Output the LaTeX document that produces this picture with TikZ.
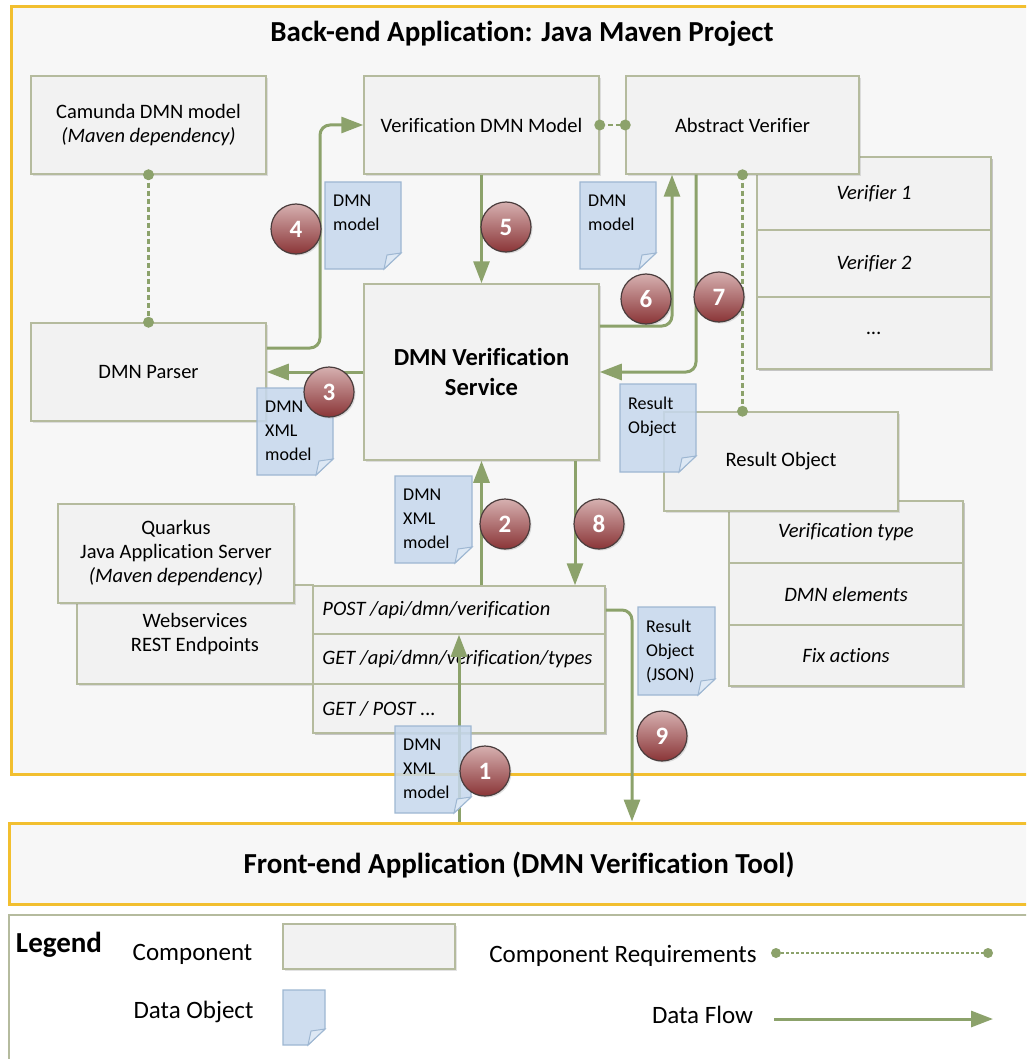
\documentclass[tikz,border=0pt]{standalone}
\usepackage{fontspec}
\setmainfont{Carlito}[Ligatures=CommonOff]
\usetikzlibrary{arrows.meta,shadows,calc}

\definecolor{flowgreen}{HTML}{8CA26B}
\definecolor{compborder}{HTML}{B5BB9E}
\definecolor{compfill}{HTML}{F2F2F2}
\definecolor{bgfill}{HTML}{F7F7F7}
\definecolor{gold}{HTML}{F2BF2F}
\definecolor{docfill}{HTML}{C6D8ED}
\definecolor{docborder}{HTML}{9EB7D2}
\definecolor{docfold}{HTML}{DDE8F4}
\definecolor{badgetop}{HTML}{D6B0B0}
\definecolor{badgebottom}{HTML}{8A3537}
\definecolor{badgeborder}{HTML}{4A3C3C}

\newcommand{\fsz}[2]{\fontsize{#1}{#2}\selectfont}

\tikzset{
  compplain/.style={draw=compborder, fill=compfill, line width=1.5pt, rectangle,
    inner sep=4pt, align=center, font=\fsz{20.5}{24}},
  comp/.style={compplain, drop shadow={shadow xshift=2pt, shadow yshift=-2pt, opacity=0.22}},
  eprow/.style={compplain, minimum width=292pt},
  eptext/.style={inner sep=0pt, anchor=west, font=\fsz{20.5}{24}\itshape},
  stackrow/.style={compplain, font=\fsz{20.5}{24}\itshape},
  flow/.style={draw=flowgreen, line width=3pt, rounded corners=10pt, -{Triangle[length=22pt,width=16pt]}},
  req/.style={draw=flowgreen, line width=2.5pt, dash pattern=on 5pt off 3pt},
  reqdot/.style={fill=flowgreen},
  badge/.style={circle, minimum size=50pt, inner sep=0pt, draw=badgeborder, line width=1.2pt,
    top color=badgetop, bottom color=badgebottom, text=white, font=\fsz{25}{25}\bfseries,
    drop shadow={shadow xshift=1.5pt, shadow yshift=-1.5pt, opacity=0.25}},
  doctext/.style={font=\fsz{18}{24}, align=left, inner sep=0pt, anchor=north west},
  plaintext/.style={inner sep=0pt, anchor=base},
}

\newcommand{\dataobj}[6]{%
  \filldraw[draw=docborder, fill=docfill, fill opacity=0.85, line width=1.2pt]
    (#2,#3) -- (#4,#3) -- (#4,#5-16) -- (#4-17,#5) -- (#2,#5) -- cycle;
  \filldraw[draw=docborder, fill=docfold, line width=1pt]
    (#4,#5-16) -- (#4-14,#5-14) -- (#4-17,#5) -- cycle;
  \node[doctext] (#1) at (#2+8,#3+13) {#6};}

\begin{document}
\begin{tikzpicture}[x=1pt,y=-1pt]
\useasboundingbox (0,0) rectangle (1026,1059);
\clip (0,0) rectangle (1026,1059);
\fill[white] (0,0) rectangle (1026,1059);

% ---------- big containers ----------
\node[draw=gold, fill=bgfill, line width=3pt, minimum width=1030pt, minimum height=767pt, inner sep=0pt] (be) at (526,390.5) {};
\node[plaintext, font=\fsz{29}{32}\bfseries] (betitle) at (522,42) {Back-end Application: Java Maven Project};

\node[draw=gold, fill=bgfill, line width=3pt, minimum width=1032pt, minimum height=81pt, inner sep=0pt] (fe) at (525,863.5) {};
\node[plaintext, font=\fsz{29}{32}\bfseries] (fetitle) at (519,873) {Front-end Application (DMN Verification Tool)};

\node[draw=compborder, fill=white, line width=2pt, minimum width=1032pt, minimum height=155pt, inner sep=0pt] (legend) at (525,992.5) {};

% ---------- components ----------
\node[comp, minimum width=235pt, minimum height=98pt] (camunda) at (148.5,125) {Camunda DMN model\\\textit{(Maven dependency)}};
\node[comp, minimum width=235pt, minimum height=98pt] (vdm) at (481.5,125) {Verification DMN Model};

% verifier stack
\fill[black, opacity=0.2] (759,159) rectangle (993,371);
\node[stackrow, minimum width=234pt, minimum height=73pt] (ver1) at (874,193.5) {Verifier 1};
\node[stackrow, minimum width=234pt, minimum height=67pt] (ver2) at (874,263.5) {Verifier 2};
\node[stackrow, minimum width=234pt, minimum height=72pt] (ver3) at (874,333) {...};

\node[comp, minimum width=233pt, minimum height=98pt] (av) at (742.5,125) {Abstract Verifier};

\node[comp, minimum width=235pt, minimum height=98pt] (parser) at (148.5,372) {DMN Parser};
\node[comp, minimum width=235pt, minimum height=176pt, font=\fsz{24.5}{30}\bfseries] (dvs) at (481.5,372) {DMN Verification\\Service};

% result stack
\fill[black, opacity=0.2] (731,503) rectangle (965,688);
\node[stackrow, minimum width=234pt, minimum height=62pt] (rt1) at (846,532) {Verification type};
\node[stackrow, minimum width=234pt, minimum height=62pt] (rt2) at (846,594) {DMN elements};
\node[stackrow, minimum width=234pt, minimum height=61pt] (rt3) at (846,655.5) {Fix actions};

\node[comp, minimum width=234pt, minimum height=99pt] (ro) at (781,461.5) {Result Object};

% webservices / quarkus / endpoints
\node[comp, minimum width=236pt, minimum height=99pt] (ws) at (195,634.5) {Webservices\\REST Endpoints};
\node[comp, minimum width=236pt, minimum height=99pt] (quarkus) at (176,553.5) {Quarkus\\Java Application Server\\\textit{(Maven dependency)}};

\fill[black, opacity=0.2] (315,588) rectangle (607,735);
\node[eprow, minimum height=48pt] (ep1) at (459,610) {};
\node[eprow, minimum height=50pt] (ep2) at (459,659) {};
\node[eprow, minimum height=49pt] (ep3) at (459,708.5) {};
\node[eptext] (ep1t) at ([xshift=10pt]ep1.west) {POST /api/dmn/verification};
\node[eptext] (ep2t) at ([xshift=10pt]ep2.west) {GET /api/dmn/verification/types};
\node[eptext] (ep3t) at ([xshift=10pt]ep3.west) {GET / POST ...};

% ---------- helper x positions ----------
\coordinate (x4) at (320,0);
\coordinate (x6) at (672,0);
\coordinate (x7) at (696,0);
\coordinate (x8) at (575,0);
\coordinate (x9) at (632,0);

% ---------- data flows ----------
\draw[flow] (fe.north -| ep1.south) -- (ep1.south);
\draw[flow] (ep1.north -| vdm.south) -- (dvs.south);
\draw[flow] (x8 |- dvs.south) -- (x8 |- ep1.north);
\draw[flow] (ep1.east) -| (x9 |- fe.north);
\draw[flow] (vdm.south) -- (dvs.north);
\draw[flow] ([yshift=24pt]parser.east) -| (x4 |- vdm.west) -- (vdm.west);
\draw[flow] (dvs.west) -- (parser.east);
\draw[flow] ([yshift=46pt]dvs.east) -| (x6 |- av.south);
\draw[flow] (x7 |- av.south) |- (dvs.east);

% ---------- component requirements ----------
\draw[req] (camunda.south) -- (parser.north);
\fill[reqdot] (camunda.south) circle (5.5pt);
\fill[reqdot] (parser.north) circle (5.5pt);
\draw[req] (vdm.east) -- (av.west);
\fill[reqdot] (vdm.east) circle (5.5pt);
\fill[reqdot] (av.west) circle (5.5pt);
\draw[req] (av.south) -- (av.south |- ro.north);
\fill[reqdot] (av.south) circle (5.5pt);
\fill[reqdot] (av.south |- ro.north) circle (5.5pt);

% ---------- data objects ----------
\dataobj{d4}{325}{182}{401}{269}{DMN\\model}
\dataobj{d6}{580}{182}{656}{269}{DMN\\model}
\dataobj{d3}{257}{388}{333}{475}{DMN\\XML\\model}
\dataobj{d2}{395}{476}{472}{563}{DMN\\XML\\model}
\dataobj{dro}{620}{384}{696}{472}{Result\\Object}
\dataobj{djson}{638}{607}{715}{695}{Result\\Object\\(JSON)}
\dataobj{d1}{395}{726}{471}{813}{DMN\\XML\\model}

% ---------- badges ----------
\node[badge] (n1) at (485,771) {1};
\node[badge] (n2) at (505,524) {2};
\node[badge] (n3) at (329,392) {3};
\node[badge] (n4) at (296,229) {4};
\node[badge] (n5) at (506,227) {5};
\node[badge] (n6) at (646,299) {6};
\node[badge] (n7) at (719,297) {7};
\node[badge] (n8) at (599,524) {8};
\node[badge] (n9) at (662,736) {9};

% ---------- legend ----------
\node[plaintext, font=\fsz{29}{32}\bfseries] (legtitle) at (59,952) {Legend};
\node[plaintext, font=\fsz{25}{28}] (legcomptext) at (192.5,960) {Component};
\node[comp, minimum width=172pt, minimum height=45pt] (legcomp) at (369,946.5) {};
\node[plaintext, font=\fsz{25}{28}] (legdoctext) at (193.5,1018) {Data Object};
\dataobj{legdoc}{283}{990}{325}{1045}{}
\node[plaintext, font=\fsz{25}{28}] (legreqtext) at (623,962) {Component Requirements};
\coordinate (lr1) at (776,953);
\coordinate (lr2) at (988,953);
\draw[req, line width=2.5pt, dash pattern=on 3pt off 2pt] (lr1) -- (lr2);
\fill[reqdot] (lr1) circle (5pt);
\fill[reqdot] (lr2) circle (5pt);
\node[plaintext, font=\fsz{25}{28}] (legflowtext) at (702.5,1023) {Data Flow};
\coordinate (lf1) at (774,1019);
\coordinate (lf2) at (993,1019);
\draw[flow] (lf1) -- (lf2);
\end{tikzpicture}
\end{document}
